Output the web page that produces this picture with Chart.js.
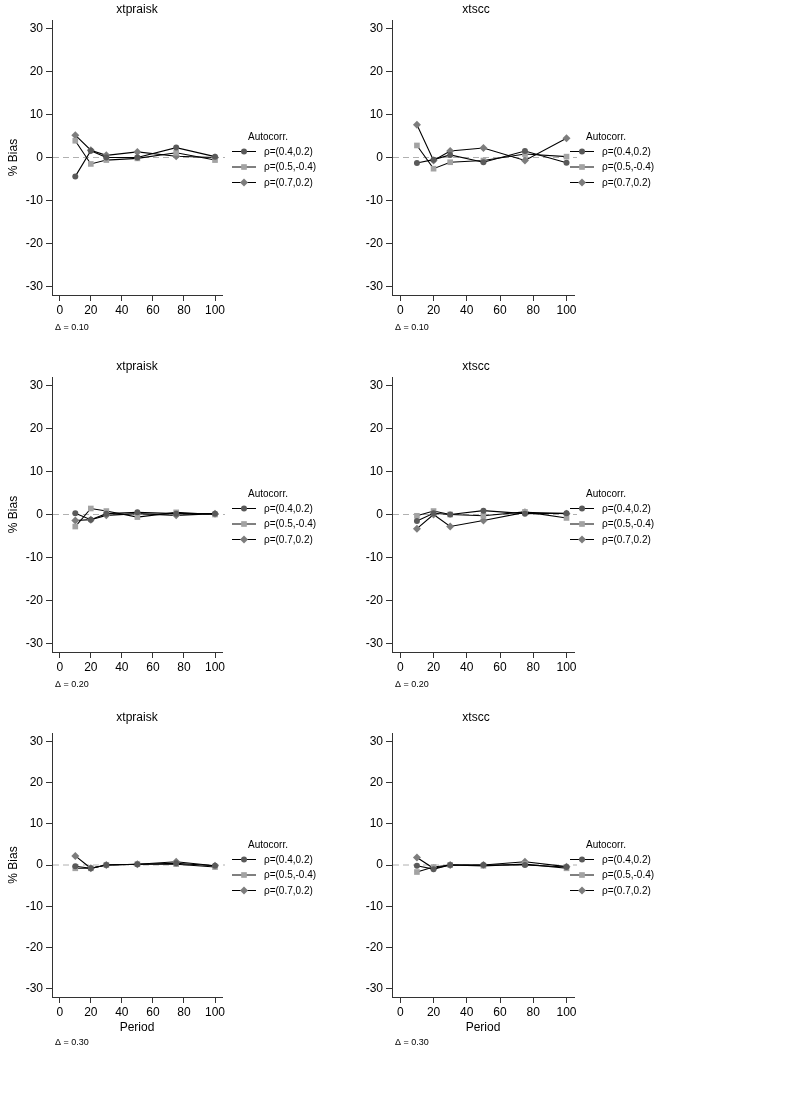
<!DOCTYPE html>
<html>
<head>
<meta charset="utf-8">
<script src="https://cdn.jsdelivr.net/npm/chart.js@4.4.1/dist/chart.umd.min.js"></script>
<style>
  body { margin: 0; background: #fff; }
  #wrap { position: relative; width: 809px; height: 1109px; overflow: hidden; background: #fff; }
  canvas { position: absolute; }
</style>
</head>
<body>
<div id="wrap">
  <canvas id="g1"></canvas>
  <canvas id="g2"></canvas>
  <canvas id="g3"></canvas>
  <canvas id="g4"></canvas>
  <canvas id="g5"></canvas>
  <canvas id="g6"></canvas>
</div>
<script>
// periods (x) and axis ticks
const periods = [10, 20, 30, 50, 75, 100];
const xTicks = [0, 20, 40, 60, 80, 100];
const yTicks = [-30, -20, -10, 0, 10, 20, 30];
const seriesNames = ['ρ=(0.4,0.2)', 'ρ=(0.5,-0.4)', 'ρ=(0.7,0.2)'];

// Δ = 0.10
const praisk10a = [-4.4, 1.6, 0.0, 0.0, 2.3, 0.2];
const praisk10b = [3.9, -1.5, -0.6, -0.2, 1.1, -0.6];
const praisk10c = [5.2, 1.7, 0.5, 1.3, 0.3, 0.0];
const scc10a = [-1.3, -0.5, 0.6, -1.1, 1.5, -1.2];
const scc10b = [2.8, -2.6, -1.1, -0.7, 0.8, 0.2];
const scc10c = [7.6, -0.7, 1.5, 2.2, -0.7, 4.5];
// Δ = 0.20
const praisk20a = [0.3, -1.2, 0.2, 0.5, 0.2, 0.2];
const praisk20b = [-2.8, 1.4, 0.8, -0.6, 0.5, 0.0];
const praisk20c = [-1.4, -1.2, -0.2, 0.2, -0.2, 0.2];
const scc20a = [-1.5, 0.3, 0.0, 0.9, 0.2, 0.3];
const scc20b = [-0.3, 0.8, 0.0, -0.3, 0.6, -0.8];
const scc20c = [-3.3, 0.0, -2.8, -1.4, 0.5, 0.2];
// Δ = 0.30
const praisk30a = [-0.3, -0.8, 0.0, 0.2, 0.4, -0.2];
const praisk30b = [-0.8, -0.8, 0.0, 0.2, 0.2, -0.5];
const praisk30c = [2.2, -0.8, 0.0, 0.2, 0.8, -0.2];
const scc30a = [-0.2, -1.0, 0.0, 0.0, 0.0, -0.5];
const scc30b = [-1.7, -0.5, 0.0, -0.2, 0.2, -0.8];
const scc30c = [1.8, -0.8, 0.0, 0.0, 0.8, -0.4];

const FONT = "'Liberation Sans', Arial, sans-serif";
const markers = [
  { style: 'circle', radius: 3, color: '#5a5a5a' },
  { style: 'rect', radius: 4, color: '#a3a3a3' },
  { style: 'rectRot', radius: 4, color: '#7d7d7d' }
];

function drawMarker(ctx, m, x, y) {
  ctx.fillStyle = m.color;
  ctx.beginPath();
  if (m.style === 'circle') {
    ctx.arc(x, y, m.radius, 0, Math.PI * 2);
  } else if (m.style === 'rect') {
    let s = m.radius * Math.SQRT1_2;
    ctx.rect(x - s, y - s, 2 * s, 2 * s);
  } else {
    ctx.moveTo(x, y - m.radius);
    ctx.lineTo(x + m.radius, y);
    ctx.lineTo(x, y + m.radius);
    ctx.lineTo(x - m.radius, y);
    ctx.closePath();
  }
  ctx.fill();
}

const decor = {
  id: 'decor',
  beforeDatasetsDraw(chart, args, o) {
    const ctx = chart.ctx, a = chart.chartArea;
    const y0 = chart.scales.y.getPixelForValue(0);
    ctx.save();
    ctx.strokeStyle = '#b0b0b0';
    ctx.lineWidth = 1;
    ctx.setLineDash([6, 4]);
    ctx.beginPath();
    ctx.moveTo(a.left + 1, y0);
    ctx.lineTo(a.right + 3, y0);
    ctx.stroke();
    ctx.restore();
  },
  afterDraw(chart, args, o) {
    const ctx = chart.ctx, a = chart.chartArea;
    ctx.save();
    ctx.fillStyle = '#000';
    // panel title
    ctx.font = '12px ' + FONT;
    ctx.textAlign = 'center';
    ctx.textBaseline = 'middle';
    ctx.fillText(o.title, (a.left + a.right) / 2 + o.titleShift, 10);
    // y title
    if (o.yTitle) {
      ctx.save();
      ctx.translate(14, chart.scales.y.getPixelForValue(0));
      ctx.rotate(-Math.PI / 2);
      ctx.fillText('% Bias', 0, 0);
      ctx.restore();
    }
    // x title
    if (o.xTitle) {
      ctx.fillText('Period', (a.left + a.right) / 2, o.xTitleY);
    }
    // legend
    ctx.font = '10px ' + FONT;
    ctx.fillText('Autocorr.', o.legendX + 36, 137);
    ctx.textAlign = 'left';
    seriesNames.forEach((name, i) => {
      const y = 151.5 + i * 15.5;
      ctx.strokeStyle = '#000';
      ctx.lineWidth = 1;
      ctx.beginPath();
      ctx.moveTo(o.legendX, y);
      ctx.lineTo(o.legendX + 24, y);
      ctx.stroke();
      drawMarker(ctx, markers[i], o.legendX + 12, y);
      ctx.fillStyle = '#000';
      ctx.fillText(name, o.legendX + 32, y + 0.5);
    });
    // note
    ctx.font = '9px ' + FONT;
    ctx.fillText(o.note, a.left + 3, o.noteY);
    ctx.restore();
  }
};

function makeChart(id, left, top, width, height, title, note, series, extra) {
  const cv = document.getElementById(id);
  cv.width = width;
  cv.height = height;
  cv.style.left = left + 'px';
  cv.style.top = top + 'px';
  const datasets = series.map((vals, i) => ({
    label: seriesNames[i],
    data: periods.map((p, k) => ({ x: p, y: vals[k] })),
    borderColor: '#000',
    borderWidth: 1.1,
    pointStyle: markers[i].style,
    pointRadius: markers[i].radius,
    pointBackgroundColor: markers[i].color,
    pointBorderColor: markers[i].color,
    pointBorderWidth: 0,
    tension: 0,
    fill: false
  }));
  const axisFont = { family: FONT, size: 12 };
  return new Chart(cv, {
    type: 'line',
    data: { datasets: datasets },
    options: {
      responsive: false,
      animation: false,
      devicePixelRatio: 1,
      layout: { padding: { top: extra.plotTop, right: extra.padRight, left: 0, bottom: 0 } },
      plugins: {
        legend: { display: false },
        tooltip: { enabled: false },
        decor: {
          title: title, note: note, yTitle: extra.yTitle, xTitle: extra.xTitle,
          xTitleY: extra.xTitleY, legendX: extra.legendX, noteY: extra.noteY,
          titleShift: extra.titleShift
        }
      },
      scales: {
        x: {
          type: 'linear',
          min: -5,
          max: 104.5,
          afterBuildTicks: s => { s.ticks = xTicks.map(v => ({ value: v })); },
          afterFit: s => { s.height = height - extra.plotBottom; },
          ticks: { color: '#000', font: axisFont, padding: 2, maxRotation: 0 },
          grid: { display: true, drawOnChartArea: false, drawTicks: true, tickLength: 6, color: '#333' },
          border: { display: true, color: '#333', width: 1 }
        },
        y: {
          type: 'linear',
          min: -32,
          max: 32,
          afterBuildTicks: s => { s.ticks = yTicks.map(v => ({ value: v })); },
          afterFit: s => { s.width = 52; },
          ticks: { color: '#000', font: axisFont, padding: 3 },
          grid: { display: true, drawOnChartArea: false, drawTicks: true, tickLength: 6, color: '#333' },
          border: { display: true, color: '#333', width: 1 }
        }
      }
    },
    plugins: [decor]
  });
}

const leftOpts = { padRight: 118, yTitle: true, legendX: 232, titleShift: 0 };
const rightOpts = { padRight: 235, yTitle: false, legendX: 230, titleShift: -7 };
const topRow = { xTitle: false, noteY: 328, plotTop: 20, plotBottom: 295 };
const lastRow = { xTitle: true, xTitleY: 320, noteY: 335, plotTop: 25, plotBottom: 289 };

makeChart('g1', 0, 0, 340, 340, 'xtpraisk', 'Δ = 0.10', [praisk10a, praisk10b, praisk10c],
  Object.assign({}, leftOpts, topRow));
makeChart('g2', 340, 0, 469, 340, 'xtscc', 'Δ = 0.10', [scc10a, scc10b, scc10c],
  Object.assign({}, rightOpts, topRow));
makeChart('g3', 0, 357, 340, 340, 'xtpraisk', 'Δ = 0.20', [praisk20a, praisk20b, praisk20c],
  Object.assign({}, leftOpts, topRow));
makeChart('g4', 340, 357, 469, 340, 'xtscc', 'Δ = 0.20', [scc20a, scc20b, scc20c],
  Object.assign({}, rightOpts, topRow));
makeChart('g5', 0, 708, 340, 360, 'xtpraisk', 'Δ = 0.30', [praisk30a, praisk30b, praisk30c],
  Object.assign({}, leftOpts, lastRow));
makeChart('g6', 340, 708, 469, 360, 'xtscc', 'Δ = 0.30', [scc30a, scc30b, scc30c],
  Object.assign({}, rightOpts, lastRow));
</script>
</body>
</html>
